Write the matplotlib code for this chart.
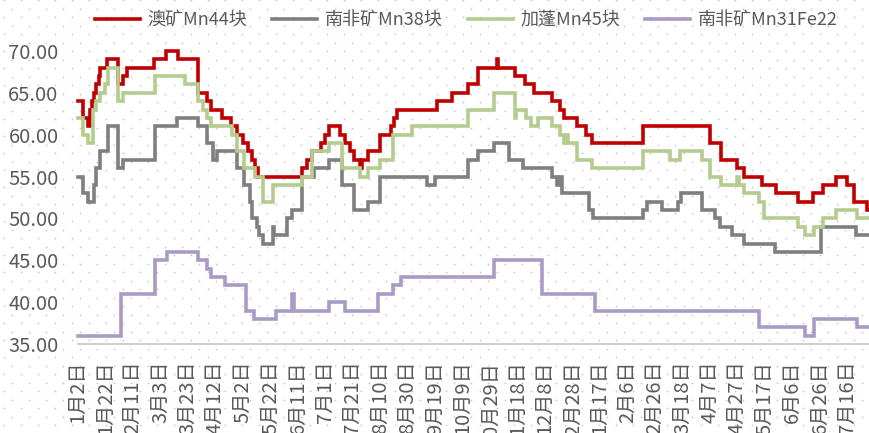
import numpy as np
import pandas as pd
import matplotlib
matplotlib.use("Agg")
from matplotlib import pyplot as plt

plt.rcParams['font.family'] = ['Noto Sans CJK SC', 'DejaVu Sans']

# start date of the series, day offsets are counted from here
start = pd.Timestamp('2017-01-02')
last_day = 575

# 澳矿Mn44块 (day offset where price changes, new price)
au_days = [0, 4, 7, 9, 10, 12, 13, 15, 16, 21, 29, 33, 36, 55, 64, 73, 87, 94, 97, 105,
           111, 116, 120, 124, 127, 129, 131, 163, 167, 170, 177, 180, 183, 191, 194, 198,
           201, 205, 207, 211, 220, 228, 230, 232, 261, 272, 284, 291, 305, 306, 318, 325,
           332, 345, 351, 354, 363, 370, 374, 411, 460, 468, 480, 485, 498, 508, 524, 535,
           542, 552, 560, 565, 574]
au_vals = [64, 62, 61, 63, 64, 65, 66, 67, 68, 69, 66, 67, 68, 69, 70, 69, 65, 64, 63, 62,
           61, 60, 59, 58, 57, 56, 55, 56, 57, 58, 59, 60, 61, 60, 59, 58,
           57, 56, 57, 58, 60, 61, 62, 63, 64, 65, 66, 68, 69, 68, 67, 66,
           65, 64, 63, 62, 61, 60, 59, 61, 59, 57, 56, 55, 54, 53, 52, 53,
           54, 55, 54, 52, 51]

# 南非矿Mn38块
sa_days = [0, 4, 7, 12, 13, 16, 22, 29, 33, 56, 72, 87, 94, 98, 101, 116, 121, 125, 127,
           130, 132, 135, 142, 143, 152, 156, 163, 172, 183, 192, 201, 211, 220, 254, 260,
           284, 291, 303, 314, 324, 345, 349, 350, 352, 372, 375, 411, 414, 425, 437, 439,
           454, 464, 467, 476, 485, 507, 541, 566]
sa_vals = [55, 53, 52, 54, 56, 58, 61, 56, 57, 61, 62, 61, 59, 57, 58, 56, 54, 52, 50,
           49, 48, 47, 49, 48, 50, 51, 55, 56, 57, 54, 51, 52, 55, 54, 55,
           57, 58, 59, 57, 56, 55, 54, 55, 53, 51, 50, 51, 52, 51, 52, 53,
           51, 50, 49, 48, 47, 46, 49, 48]

# 加蓬Mn45块
ga_days = [0, 4, 7, 11, 13, 16, 20, 22, 29, 33, 56, 78, 87, 91, 94, 97, 112, 116, 121,
           129, 135, 142, 163, 170, 183, 192, 205, 211, 220, 229, 243, 284, 303, 318, 319,
           326, 330, 335, 345, 351, 354, 356, 357, 363, 374, 411, 431, 438, 454, 460, 468,
           480, 481, 485, 496, 499, 524, 529, 536, 542, 552, 567]
ga_vals = [62, 60, 59, 63, 64, 65, 66, 68, 64, 65, 67, 66, 64, 63, 62, 61, 60, 58, 56,
           55, 52, 54, 55, 58, 59, 56, 55, 56, 57, 60, 61, 63, 65, 62, 63,
           62, 61, 62, 61, 60, 59, 60, 59, 57, 56, 58, 57, 58, 57, 55, 54,
           55, 54, 53, 52, 50, 49, 48, 49, 50, 51, 50]

# 南非矿Mn31Fe22
fe_days = [0, 31, 56, 65, 87, 94, 97, 107, 122, 128, 144, 156, 157, 183, 194, 218, 229,
           235, 303, 338, 376, 496, 529, 536, 567]
fe_vals = [36, 41, 45, 46, 45, 44, 43, 42, 39, 38, 39, 41, 39, 40, 39, 41, 42,
           43, 45, 41, 39, 37, 36, 38, 37]

series = [
    ('澳矿Mn44块', au_days, au_vals, '#C00000'),
    ('南非矿Mn38块', sa_days, sa_vals, '#7F7F7F'),
    ('加蓬Mn45块', ga_days, ga_vals, '#B4CC8E'),
    ('南非矿Mn31Fe22', fe_days, fe_vals, '#A99BC4'),
]

fig = plt.figure(figsize=(8.7, 4.33), dpi=100)

# dotted pattern background over the whole chart
bg = fig.add_axes([0, 0, 1, 1], zorder=0)
bg.set_xlim(0, 870)
bg.set_ylim(433, 0)
bg.axis('off')
rows = np.arange(0, 440, 8.5)
for r, yy in enumerate(rows):
    xs = np.arange(4 + (r % 2) * 8.5, 875, 17)
    bg.scatter(xs, np.full(len(xs), yy), s=1.6, color='#C9C9C9', linewidths=0)

ax = fig.add_axes([78 / 870, 89 / 433, 790 / 870, 293 / 433], zorder=1)
ax.patch.set_alpha(0)

for name, days, vals, color in series:
    d = list(days) + [last_day]
    v = list(vals) + [vals[-1]]
    ax.step(d, v, where='post', color=color, linewidth=2.6, label=name,
            clip_on=False, solid_joinstyle='miter')

ax.set_xlim(0, last_day)
ax.set_ylim(35, 70)
ax.set_yticks(np.arange(35, 71, 5))
ax.set_yticklabels([f'{t:.2f}' for t in np.arange(35, 71, 5)])

tick_days = list(range(0, 561, 20))
tick_dates = [start + pd.Timedelta(days=t) for t in tick_days]
ax.set_xticks(tick_days)
ax.set_xticklabels([f'{d.month}月{d.day}日' for d in tick_dates], rotation=90, va='top')

for s in ['top', 'right', 'left']:
    ax.spines[s].set_visible(False)
ax.spines['bottom'].set_color('#D0D0D0')
ax.spines['bottom'].set_linewidth(1.5)
ax.tick_params(axis='y', length=0, pad=14, labelsize=14.5, labelcolor='#595959')
ax.tick_params(axis='x', length=0, pad=12, labelsize=14.5, labelcolor='#595959')

leg = fig.legend(loc='center left', bbox_to_anchor=(0.109, 0.954), ncol=4, frameon=False,
                 fontsize=13, handlelength=2.5, handletextpad=0.4, columnspacing=1.4,
                 borderaxespad=0, borderpad=0)
for t in leg.get_texts():
    t.set_color('#595959')

fig.savefig('out.png', dpi=100)
